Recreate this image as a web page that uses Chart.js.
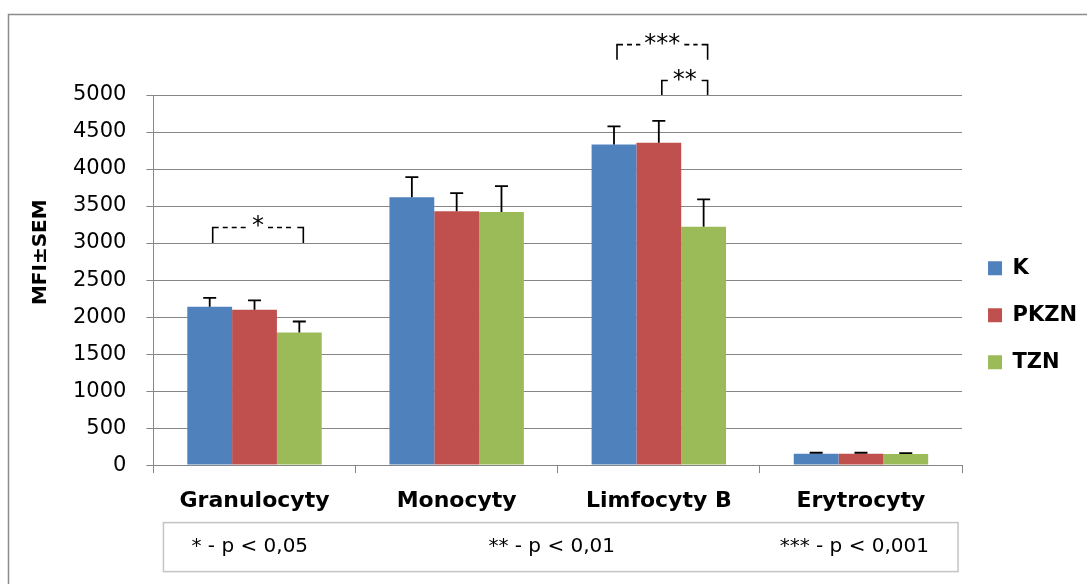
<!DOCTYPE html>
<html>
<head>
<meta charset="utf-8">
<script src="https://cdn.jsdelivr.net/npm/chart.js@4/dist/chart.umd.min.js"></script>
<style>
  html, body { margin: 0; padding: 0; background: #fff; }
  #wrap { position: relative; width: 1087px; height: 584px; }
</style>
</head>
<body>
<div id="wrap"><canvas id="mfiChart"></canvas></div>
<script>
// values (MFI, with SEM drawn upward only)
const categories = ['Granulocyty', 'Monocyty', 'Limfocyty B', 'Erytrocyty'];
const valuesK = [2140, 3620, 4330, 155];
const valuesPKZN = [2100, 3430, 4355, 155];
const valuesTZN = [1790, 3420, 3220, 150];
const semK = [120, 270, 245, 12];
const semPKZN = [125, 245, 295, 12];
const semTZN = [150, 350, 370, 12];

// significance brackets: category, first and last series, leg base / top (MFI units)
const brackets = [
    { cat: 0, from: 0, to: 2, base: 3000, top: 3210, label: '*' },
    { cat: 2, from: 0, to: 2, base: 5475, top: 5680, label: '***' },
    { cat: 2, from: 1, to: 2, base: 5000, top: 5195, label: '**' }
];
const footnotes = ['* - p < 0,05', '** - p < 0,01', '*** - p < 0,001'];

const GRID = '#868686';
Chart.defaults.font.family = '"DejaVu Sans", sans-serif';
Chart.defaults.color = '#000';

// upward SEM whiskers on each bar
const errorBars = {
    id: 'errorBars',
    afterDatasetsDraw(chart) {
        const ctx = chart.ctx;
        const yScale = chart.scales.y;
        ctx.save();
        ctx.strokeStyle = '#000';
        ctx.lineWidth = 1.8;
        chart.data.datasets.forEach((ds, i) => {
            chart.getDatasetMeta(i).data.forEach((bar, j) => {
                const top = yScale.getPixelForValue(ds.data[j] + ds.sem[j]);
                ctx.beginPath();
                ctx.moveTo(bar.x, bar.y);
                ctx.lineTo(bar.x, top);
                ctx.moveTo(bar.x - 6.5, top);
                ctx.lineTo(bar.x + 6.5, top);
                ctx.stroke();
            });
        });
        ctx.restore();
    }
};

// brackets with stars, footnote box and the outer frame
const annotations = {
    id: 'annotations',
    afterDraw(chart) {
        const ctx = chart.ctx;
        const yScale = chart.scales.y;
        const area = chart.chartArea;
        ctx.save();
        ctx.strokeStyle = '#000';
        ctx.fillStyle = '#000';
        ctx.lineWidth = 1.6;
        ctx.font = '24px "DejaVu Sans"';
        ctx.textAlign = 'center';
        ctx.textBaseline = 'alphabetic';
        brackets.forEach(b => {
            const x1 = chart.getDatasetMeta(b.from).data[b.cat].x + 3;
            const x2 = chart.getDatasetMeta(b.to).data[b.cat].x + 4;
            const yb = yScale.getPixelForValue(b.base);
            const yt = yScale.getPixelForValue(b.top);
            const xm = (x1 + x2) / 2;
            const half = ctx.measureText(b.label).width / 2 + 4;
            ctx.setLineDash([]);
            ctx.beginPath();
            ctx.moveTo(x1, yb); ctx.lineTo(x1, yt); ctx.lineTo(x1 + 6, yt);
            ctx.moveTo(x2, yb); ctx.lineTo(x2, yt); ctx.lineTo(x2 - 6, yt);
            ctx.stroke();
            ctx.setLineDash([5, 4]);
            ctx.beginPath();
            if (xm - half > x1 + 9) { ctx.moveTo(x1 + 10, yt); ctx.lineTo(xm - half, yt); }
            if (xm + half < x2 - 9) { ctx.moveTo(xm + half, yt); ctx.lineTo(x2 - 10, yt); }
            ctx.stroke();
            ctx.fillText(b.label, xm, yt + 6);
        });
        ctx.setLineDash([]);

        // footnote box under the category labels
        const boxL = area.left + 10, boxR = area.right - 4;
        const boxT = area.bottom + 57.5, boxH = 49;
        ctx.strokeStyle = '#c4c4c4';
        ctx.lineWidth = 1.5;
        ctx.strokeRect(boxL, boxT, boxR - boxL, boxH);
        ctx.font = '20px "DejaVu Sans"';
        ctx.textBaseline = 'middle';
        ctx.textAlign = 'left';
        ctx.fillText(footnotes[0], boxL + 28, boxT + boxH / 2);
        ctx.textAlign = 'center';
        ctx.fillText(footnotes[1], (boxL + boxR) / 2 - 9, boxT + boxH / 2);
        ctx.textAlign = 'right';
        ctx.fillText(footnotes[2], boxR - 29, boxT + boxH / 2);

        // frame (left and top edges only are visible)
        ctx.strokeStyle = '#8c8c8c';
        ctx.lineWidth = 1.5;
        ctx.beginPath();
        ctx.moveTo(8.5, chart.height);
        ctx.lineTo(8.5, 14.5);
        ctx.lineTo(chart.width, 14.5);
        ctx.stroke();
        ctx.restore();
    }
};

const ctx = document.getElementById('mfiChart').getContext('2d');
new Chart(ctx, {
    type: 'bar',
    data: {
        labels: categories,
        datasets: [
            { label: 'K', data: valuesK, sem: semK, backgroundColor: '#4F81BD' },
            { label: 'PKZN', data: valuesPKZN, sem: semPKZN, backgroundColor: '#C0504D' },
            { label: 'TZN', data: valuesTZN, sem: semTZN, backgroundColor: '#9BBB59' }
        ]
    },
    options: {
        responsive: true,
        maintainAspectRatio: false,
        animation: false,
        datasets: {
            bar: { categoryPercentage: 0.665, barPercentage: 1 }
        },
        layout: { padding: { left: 20, top: 95, right: 0, bottom: 54.5 } },
        plugins: {
            legend: {
                position: 'right',
                fullSize: false,
                title: { display: true, text: '', padding: { top: 28, bottom: 28 } },
                labels: {
                    boxWidth: 14,
                    boxHeight: 14,
                    padding: 26,
                    color: '#000',
                    font: { size: 21, weight: 'bold' }
                }
            },
            tooltip: { enabled: false }
        },
        scales: {
            x: {
                grid: {
                    offset: true,
                    drawOnChartArea: false,
                    drawTicks: true,
                    tickLength: 8,
                    color: GRID
                },
                border: { color: GRID },
                ticks: {
                    autoSkip: false,
                    maxRotation: 0,
                    padding: 15,
                    color: '#000',
                    font: { size: 22, weight: 'bold' }
                }
            },
            y: {
                min: 0,
                max: 5000,
                grid: { color: GRID, tickLength: 7 },
                border: { color: GRID },
                ticks: {
                    stepSize: 500,
                    padding: 20,
                    color: '#000',
                    font: { size: 21 },
                    callback: value => String(value)
                },
                title: {
                    display: true,
                    text: '        MFI\u00B1SEM',
                    color: '#000',
                    font: { size: 20, weight: 'bold' },
                    padding: { top: 9, bottom: 0 }
                }
            }
        }
    },
    plugins: [errorBars, annotations]
});
</script>
</body>
</html>
